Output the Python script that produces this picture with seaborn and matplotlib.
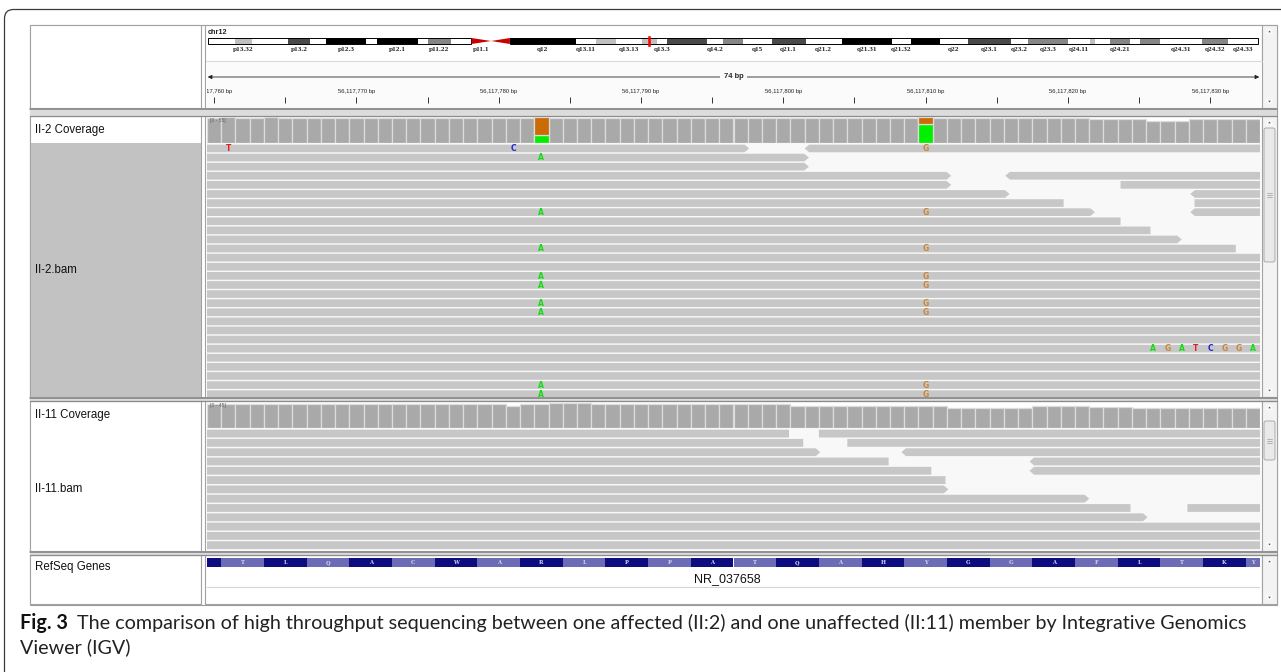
import matplotlib
matplotlib.use("Agg")
import matplotlib.pyplot as plt
from matplotlib.patches import Polygon, Rectangle, FancyBboxPatch
import numpy as np
import pandas as pd
import seaborn as sns

"""
IGV view chr12:56,117,760-56,117,833 - affected II-2 vs unaffected II-11
"""

# ---------------- data ----------------
POS_BASE = 56_117_000            # genomic positions below are offsets from this
VIEW_START, VIEW_END = 759.5, 833.5
TICK_POS = [760, 765, 770, 775, 780, 785, 790, 795, 800, 805, 810, 815, 820, 825, 830]
TICK_LABEL_POS = [760, 770, 780, 790, 800, 810, 820, 830]

# chr12 cytobands (Mb)
CHR_NAME = "chr12"
CHR_LEN = 133.9
BAND_NAME = ['p13.33', 'p13.32', 'p13.31', 'p13.2', 'p13.1', 'p12.3', 'p12.2', 'p12.1',
             'p11.23', 'p11.22', 'p11.21', 'p11.1', 'q11', 'q12', 'q13.11', 'q13.12',
             'q13.13', 'q13.2', 'q13.3', 'q14.1', 'q14.2', 'q14.3', 'q15', 'q21.1',
             'q21.2', 'q21.31', 'q21.32', 'q21.33', 'q22', 'q23.1', 'q23.2', 'q23.3',
             'q24.11', 'q24.12', 'q24.13', 'q24.21', 'q24.22', 'q24.23', 'q24.31',
             'q24.32', 'q24.33']
BAND_START = [0.0, 3.4, 5.6, 10.2, 13.0, 15.1, 20.2, 21.5, 26.8, 28.0, 31.0, 33.6, 36.1,
              38.5, 46.9, 49.5, 52.0, 55.3, 57.3, 58.5, 63.6, 65.7, 68.2, 71.9, 76.2,
              80.8, 87.2, 89.6, 93.3, 96.9, 102.4, 104.6, 109.7, 112.5, 113.1, 115.0,
              117.6, 118.8, 121.4, 126.8, 130.1]
BAND_END = BAND_START[1:] + [CHR_LEN]
BAND_STAIN = ['gneg', 'gpos25', 'gneg', 'gpos75', 'gneg', 'gpos100', 'gneg', 'gpos100',
              'gneg', 'gpos50', 'gneg', 'acen', 'acen', 'gpos100', 'gneg', 'gpos25',
              'gneg', 'gpos25', 'gneg', 'gpos75', 'gneg', 'gpos50', 'gneg', 'gpos75',
              'gneg', 'gpos100', 'gneg', 'gpos100', 'gneg', 'gpos75', 'gneg', 'gpos50',
              'gneg', 'gpos25', 'gneg', 'gpos50', 'gneg', 'gpos50', 'gneg', 'gpos50', 'gneg']
BAND_SHOWN = ['p13.32', 'p13.2', 'p12.3', 'p12.1', 'p11.22', 'p11.1', 'q12', 'q13.11',
              'q13.13', 'q13.3', 'q14.2', 'q15', 'q21.1', 'q21.2', 'q21.31', 'q21.32',
              'q22', 'q23.1', 'q23.2', 'q23.3', 'q24.11', 'q24.21', 'q24.31', 'q24.32',
              'q24.33']

# coverage (one value per base, 760..833)
COV_POS = list(range(760, 834))
II2_RANGE = 55
II2_DEPTH = ([53, 55, 53, 53, 55] + [53] * 18 + [55] + [53] * 26 + [55] + [53] * 11
             + [50] * 4 + [47] * 3 + [50] * 5)
II11_RANGE = 45
II11_DEPTH = ([41] * 21 + [38] + [41] * 2 + [44] * 3 + [41] * 14 + [38] * 11 + [35] * 6
              + [38] * 4 + [37] * 3 + [35] * 9)
# allele split of the two variant columns in II-2
VARIANT_POS = [783, 810]
VARIANT_A = [16, 40]
VARIANT_G = [39, 15]

# reads: one list per row of (start, end, strand)
II2_READS = [
    [(740, 797.6, '+'), (801.5, 850, '-')],
    [(740, 801.8, '+')],
    [(740, 801.8, '+')],
    [(740, 811.8, '+'), (815.6, 850, '-')],
    [(740, 811.8, '+'), (823.7, 850, '+')],
    [(740, 815.9, '+'), (828.6, 850, '-')],
    [(740, 819.7, '-'), (828.9, 850, '+')],
    [(740, 821.9, '+'), (828.6, 850, '-')],
    [(740, 823.7, '-')],
    [(740, 825.8, '-')],
    [(740, 828.0, '+')],
    [(740, 831.8, '-')],
] + [[(740, 850, '+')]] * 16

II2_MISMATCH = [(0, 761, 'T'), (0, 781, 'C'), (0, 810, 'G'), (1, 783, 'A'),
                (7, 783, 'A'), (7, 810, 'G'), (11, 783, 'A'), (11, 810, 'G'),
                (14, 783, 'A'), (14, 810, 'G'), (15, 783, 'A'), (15, 810, 'G'),
                (17, 783, 'A'), (17, 810, 'G'), (18, 783, 'A'), (18, 810, 'G'),
                (22, 826, 'A'), (22, 827, 'G'), (22, 828, 'A'), (22, 829, 'T'),
                (22, 830, 'C'), (22, 831, 'G'), (22, 832, 'G'), (22, 833, 'A'),
                (26, 783, 'A'), (26, 810, 'G'), (27, 783, 'A'), (27, 810, 'G')]

II11_READS = [
    [(740, 800.4, '-'), (802.5, 850, '+')],
    [(740, 801.4, '-'), (804.5, 850, '+')],
    [(740, 802.6, '+'), (808.3, 850, '-')],
    [(740, 807.4, '-'), (817.3, 850, '-')],
    [(740, 810.4, '-'), (817.3, 850, '-')],
    [(740, 811.4, '-')],
    [(740, 811.6, '+')],
    [(740, 821.5, '+')],
    [(740, 824.4, '-'), (828.4, 850, '+')],
    [(740, 825.6, '+')],
] + [[(740, 850, '+')]] * 3

# RefSeq NR_037658, codons from 757.5 (first one cut at the left edge)
GENE_NAME = "NR_037658"
AA_START = 757.5
AMINO_ACIDS = ['', 'T', 'L', 'Q', 'A', 'C', 'W', 'A', 'R', 'L', 'P', 'P', 'A', 'T', 'Q',
               'A', 'H', 'Y', 'G', 'G', 'A', 'F', 'L', 'T', 'K', 'Y']

TRACK_NAMES = ['II-2 Coverage', 'II-2.bam', 'II-11 Coverage', 'II-11.bam', 'RefSeq Genes']
CAPTION_BOLD = "Fig. 3"
CAPTION_1 = ("The comparison of high throughput sequencing between one affected (II:2) "
             "and one unaffected (II:11) member by Integrative Genomics")
CAPTION_2 = "Viewer (IGV)"

# ---------------- style ----------------
sns.set_style("white")
plt.rcParams['font.family'] = ['Liberation Sans', 'DejaVu Sans']

STAIN_COLOR = {'gneg': 'white', 'gpos25': '#c0c0c0', 'gpos50': '#868686',
               'gpos75': '#4a4a4a', 'gpos100': 'black', 'acen': '#c80000'}
BASE_COLOR = {'A': '#10dd10', 'C': '#2424d8', 'G': '#c9853c', 'T': '#e81c1c'}
COV_COLOR, COV_EDGE = '#a9a9a9', '#dcdcdc'
READ_COLOR = '#c7c7c7'
COV_A, COV_G = '#00f000', '#cc6a04'
AA_DARK, AA_LIGHT = '#0d0d7f', '#6b6bb6'
LINE = '#a2a2a2'

W, H = 1281, 672
fig = plt.figure(figsize=(W / 100, H / 100), dpi=100)


def px_axes(x0, y0, x1, y1):
    return fig.add_axes([x0 / W, 1 - y1 / H, (x1 - x0) / W, (y1 - y0) / H])


# layout in pixels
NAME_X0, NAME_X1 = 30, 201
DATA_X0, DATA_X1 = 207, 1260
SCR_X0, SCR_X1 = 1262, 1277
PANELS = [(25, 108), (116, 397), (401, 551), (555, 604)]
II2_COV_Y, II2_BAM_Y = (117, 143), (143, 397)
II11_COV_Y, II11_BAM_Y = (402, 428), (428, 551)

# ---------------- background frame ----------------
bg = px_axes(0, 0, W, H)
bg.set_xlim(0, W)
bg.set_ylim(H, 0)
bg.axis('off')


def rect(x0, y0, x1, y1, fc, ec='none', lw=0.8):
    bg.add_patch(Rectangle((x0, y0), x1 - x0, y1 - y0, fc=fc, ec=ec, lw=lw))


bg.add_patch(FancyBboxPatch((4.5, 9.5), 1400, 800, boxstyle="round,pad=0,rounding_size=9",
                            fc='white', ec='#3a3a3a', lw=0.9))
rect(NAME_X0, 25, SCR_X1, 605, 'white', '#9c9c9c')
for y0, y1 in PANELS:
    rect(NAME_X0, y0, NAME_X1, y1, 'white', LINE)
    rect(205, y0, SCR_X0, y1, 'white', LINE)
    rect(SCR_X0, y0, SCR_X1, y1, '#f3f3f3', LINE)
    bg.add_patch(Polygon([(1266.5, y0 + 8), (1272.5, y0 + 8), (1269.5, y0 + 4.5)], fc='#555'))
    bg.add_patch(Polygon([(1266.5, y1 - 8), (1272.5, y1 - 8), (1269.5, y1 - 4.5)], fc='#555'))
for (a0, a1), (b0, b1) in zip(PANELS[:-1], PANELS[1:]):
    rect(NAME_X0, a1, SCR_X1, b0, '#dcdcdc')
    bg.plot([NAME_X0, SCR_X1], [a1 + 0.5, a1 + 0.5], color='#7c7c7c', lw=1.1)
    bg.plot([NAME_X0, SCR_X1], [b0 - 0.5, b0 - 0.5], color='#8c8c8c', lw=0.9)

# scroll thumbs
for t0, t1 in [(128, 262), (421, 460)]:
    bg.add_patch(FancyBboxPatch((1264, t0), 11, t1 - t0, boxstyle="round,pad=0,rounding_size=2",
                                fc='#e9e9e9', ec='#a0a0a0', lw=0.6))
    mid = (t0 + t1) / 2
    for dy in (-2, 0, 2):
        bg.plot([1267, 1272], [mid + dy, mid + dy], color='#9a9a9a', lw=0.5)

# selected alignment track name
rect(NAME_X0 + 1, II2_BAM_Y[0], NAME_X1, II2_BAM_Y[1], '#c2c2c2')
# alignment backgrounds
rect(206, II2_BAM_Y[0], SCR_X0, II2_BAM_Y[1], '#f8f8f8')
rect(206, II11_BAM_Y[0], SCR_X0, II11_BAM_Y[1], '#f8f8f8')
# header: ruler area
rect(206, 61, SCR_X0, 107, '#fbfbfb')
bg.plot([206, SCR_X0], [61, 61], color='#dadada', lw=0.8)

name_y = [sum(II2_COV_Y) / 2, sum(II2_BAM_Y) / 2, sum(II11_COV_Y) / 2,
          sum(II11_BAM_Y) / 2, 567]
for name, y in zip(TRACK_NAMES, name_y):
    bg.text(35, y, name, fontsize=8.3, va='center', ha='left', color='#111')

# ---------------- ideogram ----------------
ax = px_axes(208, 38, 1258, 44)
ax.set_xlim(0, CHR_LEN)
ax.set_ylim(0, 1)
ax.axis('off')
for s, e, st in zip(BAND_START, BAND_END, BAND_STAIN):
    if st != 'acen':
        ax.bar(s, 1, width=e - s, align='edge', color=STAIN_COLOR[st], lw=0)
acen = [i for i, st in enumerate(BAND_STAIN) if st == 'acen']
p_end, cen_mid, q_start = BAND_START[acen[0]], BAND_END[acen[0]], BAND_END[acen[-1]]
ax.add_patch(Rectangle((0, 0), p_end, 1, fc='none', ec='black', lw=0.7, clip_on=False))
ax.add_patch(Rectangle((q_start, 0), CHR_LEN - q_start, 1, fc='none', ec='black', lw=0.7,
                       clip_on=False))
ax.add_patch(Polygon([(p_end, 0), (p_end, 1), (cen_mid, 0.5)], fc=STAIN_COLOR['acen'], lw=0,
                     clip_on=False))
ax.add_patch(Polygon([(q_start, 0), (q_start, 1), (cen_mid, 0.5)], fc=STAIN_COLOR['acen'],
                     lw=0, clip_on=False))
view_mb = (POS_BASE + VIEW_START) / 1e6
ax.add_patch(Rectangle((view_mb, -0.3), 0.28, 1.6, fc='#ff0000', ec='#ff0000', lw=0.4,
                       clip_on=False))
for n, s, e in zip(BAND_NAME, BAND_START, BAND_END):
    if n in BAND_SHOWN:
        ax.text((s + e) / 2, -0.85, n, ha='center', va='center', fontsize=5.2,
                weight='bold', family='Liberation Serif', clip_on=False)
ax.text(0, 1.85, CHR_NAME, ha='left', va='center', fontsize=5.2, weight='bold', clip_on=False)

# ---------------- ruler ----------------
ax = px_axes(DATA_X0, 61, DATA_X1, 107)
ax.set_xlim(VIEW_START, VIEW_END)
ax.set_ylim(46, 0)
ax.axis('off')
ax.annotate('', xy=(VIEW_START + 0.05, 16), xytext=(VIEW_END - 0.05, 16),
            arrowprops=dict(arrowstyle='<|-|>', color='#222', lw=0.6, mutation_scale=6,
                            shrinkA=0, shrinkB=0))
ax.text((VIEW_START + VIEW_END) / 2, 16, f"{int(VIEW_END - VIEW_START)} bp", ha='center',
        va='center', fontsize=5.4, weight='bold',
        bbox=dict(fc='#fbfbfb', ec='none', pad=2.5))
ax.vlines(TICK_POS, 36, 42, color='#333', lw=0.7)
for p in TICK_LABEL_POS:
    ax.text(p, 30, f"{POS_BASE + p:,} bp", ha='center', va='center', fontsize=4.2,
            color='#222', clip_on=True)


# ---------------- coverage tracks ----------------
def draw_coverage(y, depth, vmax, variants=False):
    ax = px_axes(DATA_X0, y[0], DATA_X1, y[1])
    df = pd.DataFrame({'pos': COV_POS, 'depth': depth})
    sns.barplot(data=df, x='pos', y='depth', native_scale=True, width=1, color=COV_COLOR,
                saturation=1, errorbar=None, edgecolor=COV_EDGE, linewidth=0.9, ax=ax)
    if variants:
        ax.bar(VARIANT_POS, VARIANT_A, width=1, color=COV_A, edgecolor=COV_EDGE, lw=0.9)
        ax.bar(VARIANT_POS, VARIANT_G, bottom=VARIANT_A, width=1, color=COV_G,
               edgecolor=COV_EDGE, lw=0.9)
    ax.set_xlim(VIEW_START, VIEW_END)
    ax.set_ylim(0, vmax)
    ax.axis('off')
    ax.text(VIEW_START + 0.2, vmax * 0.97, f"[0 - {vmax}]", fontsize=3.6, color='#666',
            ha='left', va='top')


def draw_reads(y, rows, n_rows, mismatches=()):
    ax = px_axes(DATA_X0, y[0], DATA_X1, y[1])
    ax.set_xlim(VIEW_START, VIEW_END)
    ax.set_ylim(n_rows - 0.1, -0.1)
    ax.axis('off')
    tip = 0.32
    for r, reads in enumerate(rows):
        y0, y1, ym = r + 0.08, r + 0.92, r + 0.5
        for s, e, strand in reads:
            if strand == '+':
                pts = [(s, y0), (e - tip, y0), (e, ym), (e - tip, y1), (s, y1)]
            else:
                pts = [(s + tip, y0), (e, y0), (e, y1), (s + tip, y1), (s, ym)]
            ax.add_patch(Polygon(pts, closed=True, fc=READ_COLOR, ec='none'))
    for r, p, b in mismatches:
        ax.text(p, r + 0.52, b, ha='center', va='center', fontsize=5.5, weight='bold',
                color=BASE_COLOR[b], family='DejaVu Sans', clip_on=True)


draw_coverage(II2_COV_Y, II2_DEPTH, II2_RANGE, variants=True)
draw_reads(II2_BAM_Y, II2_READS, (II2_BAM_Y[1] - II2_BAM_Y[0]) / 9.1, II2_MISMATCH)
draw_coverage(II11_COV_Y, II11_DEPTH, II11_RANGE)
draw_reads(II11_BAM_Y, II11_READS, (II11_BAM_Y[1] - II11_BAM_Y[0]) / 9.3)

# ---------------- RefSeq genes ----------------
ax = px_axes(DATA_X0, 555, DATA_X1, 604)
ax.set_xlim(VIEW_START, VIEW_END)
ax.set_ylim(49, 0)
ax.axis('off')
starts = [AA_START + 3 * i for i in range(len(AMINO_ACIDS))]
colors = [AA_DARK if i % 2 == 0 else AA_LIGHT for i in range(len(AMINO_ACIDS))]
ax.bar(starts, 9, bottom=3, width=3, align='edge', color=colors, lw=0)
for s, aa in zip(starts, AMINO_ACIDS):
    lo, hi = max(s, VIEW_START), min(s + 3, VIEW_END)
    if aa and hi > lo:
        ax.text((lo + hi) / 2, 7.5, aa, ha='center', va='center', fontsize=3.8,
                color='#d6d6f0', family='DejaVu Serif', weight='bold')
ax.text((VIEW_START + VIEW_END) / 2 - 0.4, 24, GENE_NAME, ha='center', va='center',
        fontsize=9, color='#111')
ax.axhline(31.5, color='#d4d4d4', lw=0.8)

# ---------------- caption ----------------
CAP_FONT = ['Lato', 'DejaVu Sans']
fs = 11
t_bold = bg.text(20, 623, CAPTION_BOLD, fontsize=fs, weight='bold', va='center',
                 family=CAP_FONT, color='#111')
t_rest = bg.text(77, 623, CAPTION_1, fontsize=fs, va='center', family=CAP_FONT, color='#222')
t_two = bg.text(20, 647, CAPTION_2, fontsize=fs, va='center', family=CAP_FONT, color='#222')
fig.canvas.draw()
r = fig.canvas.get_renderer()
fs_fit = fs * (1247 - 77) / t_rest.get_window_extent(r).width
for t in (t_bold, t_rest, t_two):
    t.set_fontsize(fs_fit)
fig.canvas.draw()
t_rest.set_x(20 + t_bold.get_window_extent(r).width + 9)

fig.savefig('out.png', dpi=100)
